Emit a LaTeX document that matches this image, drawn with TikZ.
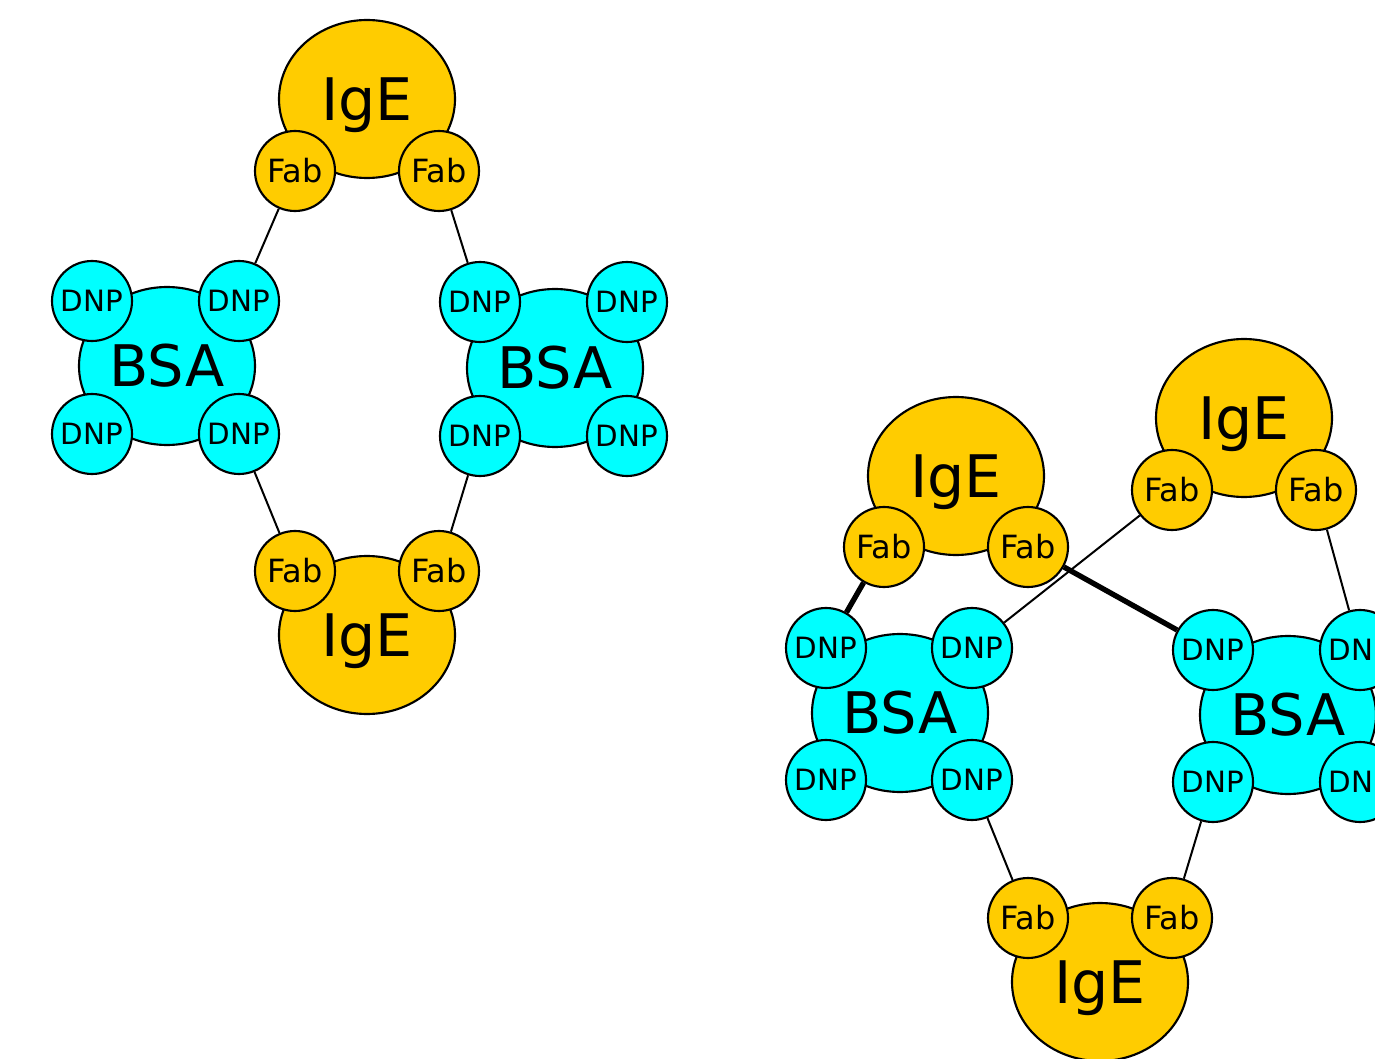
\documentclass[tikz,border=0pt]{standalone}
\usepackage{fontspec}
\setmainfont{DejaVu Sans}
\usetikzlibrary{shapes.geometric}
\definecolor{ige}{RGB}{255,204,0}
\definecolor{bsa}{RGB}{0,255,255}
\begin{document}
\begin{tikzpicture}[x=0.75pt,y=-0.75pt,
  big/.style={ellipse,draw=black,line width=1.6pt,minimum width=132pt,minimum height=118.5pt,inner sep=0pt,font=\fontsize{44}{44}\selectfont,text height=32pt,text depth=0pt},
  igebox/.style={big,fill=ige},
  bsabox/.style={big,fill=bsa,font=\fontsize{43}{43}\selectfont,text height=31.3pt},
  small/.style={circle,draw=black,line width=1.6pt,minimum size=60pt,inner sep=0pt,text depth=0pt},
  fab/.style={small,fill=ige,font=\fontsize{24}{24}\selectfont,text height=17.5pt},
  dnp/.style={small,fill=bsa,font=\fontsize{22}{22}\selectfont,text height=16pt},
  link/.style={line width=1.5pt},
  strong/.style={line width=4pt}]
\useasboundingbox (0,0) rectangle (1375,1059);
\clip (0,0) rectangle (1375,1059);
% ---- left complex ----
\node[igebox] (i1) at (367,99) {IgE};
\node[fab] (i1a) at (295,171) {Fab};
\node[fab] (i1b) at (439,171) {Fab};
\node[bsabox] (b1) at (167,366) {BSA};
\node[dnp] (b1a) at (92,301) {DNP};
\node[dnp] (b1b) at (239,301) {DNP};
\node[dnp] (b1c) at (92,434) {DNP};
\node[dnp] (b1d) at (239,434) {DNP};
\node[bsabox] (b2) at (555,368) {BSA};
\node[dnp] (b2a) at (480,302) {DNP};
\node[dnp] (b2b) at (627,302) {DNP};
\node[dnp] (b2c) at (480,436) {DNP};
\node[dnp] (b2d) at (627,436) {DNP};
\node[igebox] (i2) at (367,635) {IgE};
\node[fab] (i2a) at (295,571) {Fab};
\node[fab] (i2b) at (439,571) {Fab};
\draw[link] (i1a) -- (b1b);
\draw[link] (i1b) -- (b2a);
\draw[link] (b1d) -- (i2a);
\draw[link] (b2c) -- (i2b);
% ---- right complex ----
\node[igebox] (i3) at (956,476) {IgE};
\node[fab] (i3a) at (884,547) {Fab};
\node[fab] (i3b) at (1028,547) {Fab};
\node[igebox] (i4) at (1244,418) {IgE};
\node[fab] (i4a) at (1172,490) {Fab};
\node[fab] (i4b) at (1316,490) {Fab};
\node[bsabox] (b3) at (900,713) {BSA};
\node[dnp] (b3a) at (826,648) {DNP};
\node[dnp] (b3b) at (972,648) {DNP};
\node[dnp] (b3c) at (826,780) {DNP};
\node[dnp] (b3d) at (972,780) {DNP};
\node[bsabox] (b4) at (1288,715) {BSA};
\node[dnp] (b4a) at (1213,650) {DNP};
\node[dnp] (b4b) at (1360,650) {DNP};
\node[dnp] (b4c) at (1213,782) {DNP};
\node[dnp] (b4d) at (1360,782) {DNP};
\node[igebox] (i5) at (1100,982) {IgE};
\node[fab] (i5a) at (1028,918) {Fab};
\node[fab] (i5b) at (1172,918) {Fab};
\draw[strong] (i3a) -- (b3a);
\draw[strong] (i3b) -- (b4a);
\draw[link] (i4a) -- (b3b);
\draw[link] (i4b) -- (b4b);
\draw[link] (b3d) -- (i5a);
\draw[link] (b4c) -- (i5b);
\end{tikzpicture}
\end{document}
